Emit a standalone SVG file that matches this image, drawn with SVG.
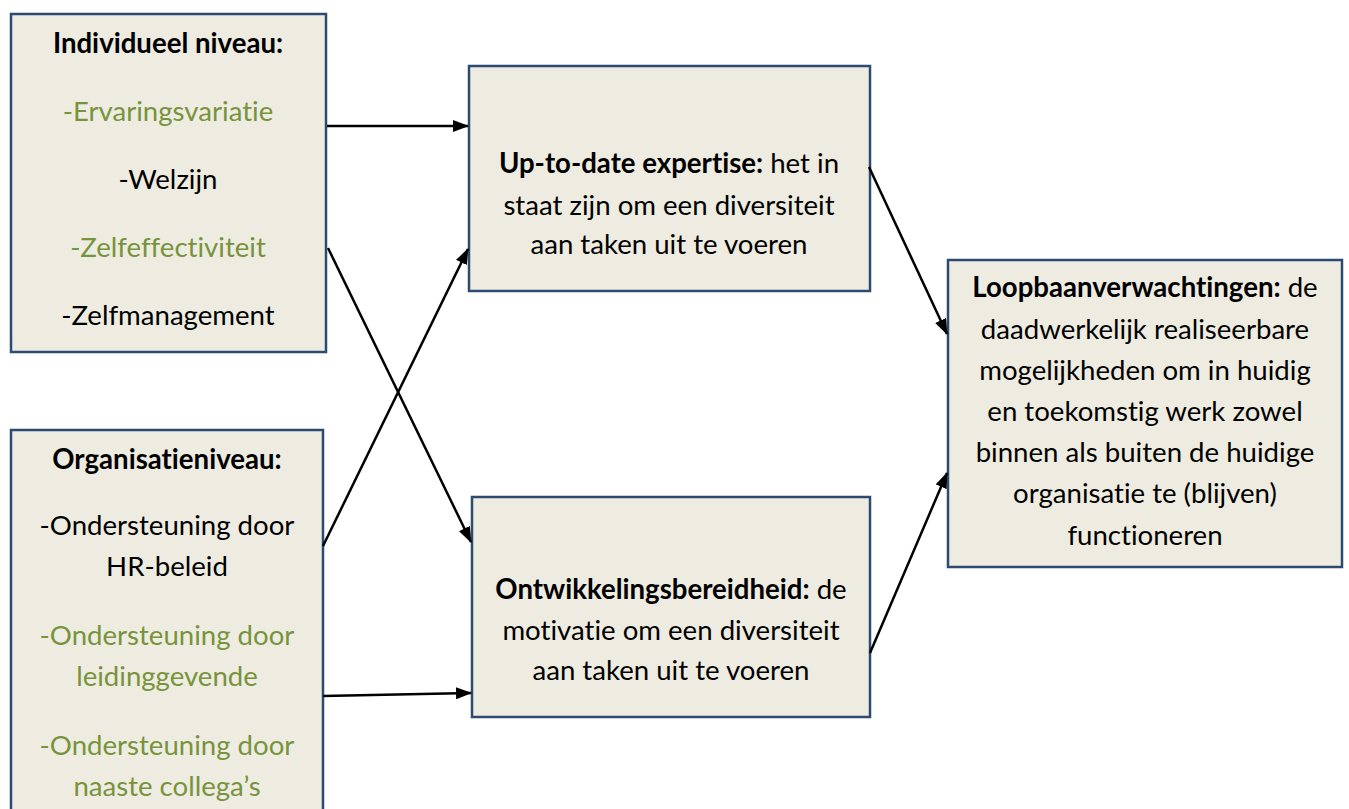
<svg xmlns="http://www.w3.org/2000/svg" width="1349" height="809" viewBox="0 0 1349 809">
<defs>
<marker id="ah" markerWidth="16" markerHeight="12" refX="15" refY="6" orient="auto" markerUnits="userSpaceOnUse">
<path d="M0,0 L16,6 L0,12 Z" fill="#000"/>
</marker>
<style>
.box{fill:#eeece1;stroke:#2c4a72;stroke-width:2.5}
text{font-family:Lato,"Liberation Sans",sans-serif;font-size:27.6px;fill:#000;text-anchor:middle;font-variant-ligatures:none;font-feature-settings:"liga" 0}
.b{font-weight:bold}
.g{fill:#77933c}
.c{stroke:#000;stroke-width:2.5;fill:none;marker-end:url(#ah)}
</style>
</defs>
<rect width="1349" height="809" fill="#fff"/>
<g id="individueel">
<rect class="box" x="11" y="14" width="315" height="338"/>
<text x="168" y="53" class="b">Individueel niveau:</text>
<text x="168" y="121" class="g">-Ervaringsvariatie</text>
<text x="168" y="189">-Welzijn</text>
<text x="168" y="257" class="g">-Zelfeffectiviteit</text>
<text x="168" y="325">-Zelfmanagement</text>
</g>
<g id="organisatie">
<rect class="box" x="11" y="430" width="312" height="400"/>
<text x="167" y="535" class="b" dy="-66">Organisatieniveau:</text>
<text x="167" y="535">-Ondersteuning door</text>
<text x="167" y="576">HR-beleid</text>
<text x="167" y="645" class="g">-Ondersteuning door</text>
<text x="167" y="686" class="g">leidinggevende</text>
<text x="167" y="755" class="g">-Ondersteuning door</text>
<text x="167" y="796" class="g">naaste collega’s</text>
</g>
<g id="expertise">
<rect class="box" x="469" y="66" width="401" height="225"/>
<text x="669" y="173"><tspan class="b">Up-to-date expertise:</tspan> het in</text>
<text x="669" y="215">staat zijn om een diversiteit</text>
<text x="669" y="254">aan taken uit te voeren</text>
</g>
<g id="ontwikkeling">
<rect class="box" x="472" y="497" width="398" height="220"/>
<text x="671" y="599"><tspan class="b">Ontwikkelingsbereidheid:</tspan> de</text>
<text x="671" y="640">motivatie om een diversiteit</text>
<text x="671" y="680">aan taken uit te voeren</text>
</g>
<g id="loopbaan">
<rect class="box" x="948" y="260" width="394" height="307"/>
<text x="1145" y="297"><tspan class="b">Loopbaanverwachtingen:</tspan> de</text>
<text x="1145" y="339">daadwerkelijk realiseerbare</text>
<text x="1145" y="380">mogelijkheden om in huidig</text>
<text x="1145" y="421">en toekomstig werk zowel</text>
<text x="1145" y="462">binnen als buiten de huidige</text>
<text x="1145" y="503">organisatie te (blijven)</text>
<text x="1145" y="545">functioneren</text>
</g>
<g id="connectors">
<line class="c" x1="327" y1="126" x2="468" y2="126"/>
<line class="c" x1="328" y1="248" x2="471" y2="542"/>
<line class="c" x1="323" y1="546" x2="468" y2="249"/>
<line class="c" x1="323" y1="696" x2="471" y2="693"/>
<line class="c" x1="869" y1="167" x2="947" y2="334"/>
<line class="c" x1="870" y1="653" x2="947" y2="473"/>
</g>
</svg>
